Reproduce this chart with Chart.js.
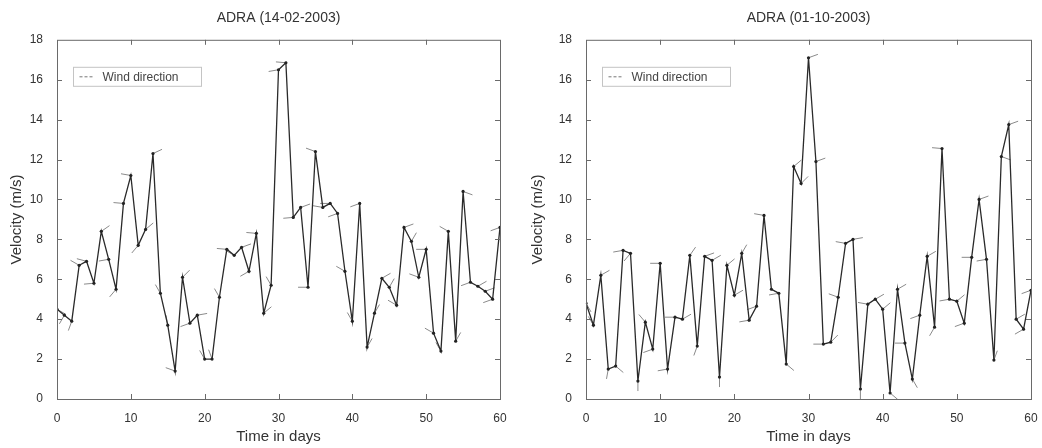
<!DOCTYPE html>
<html>
<head>
<meta charset="utf-8">
<script src="https://cdn.jsdelivr.net/npm/chart.js@4.4.1/dist/chart.umd.min.js"></script>
<style>
  body { margin: 0; background: #fff; }
  .wrap { position: absolute; top: 0; width: 521px; height: 448px; }
  #left { left: 0; }
  #right { left: 521px; }
</style>
</head>
<body>
<div class="wrap" id="left"><canvas id="chartA"></canvas></div>
<div class="wrap" id="right"><canvas id="chartB"></canvas></div>
<script>
// day index 0..60
const days = [];
for (let d = 0; d <= 60; d++) days.push(d);

const xTicks = [0, 10, 20, 30, 40, 50, 60];
const yTicks = [0, 2, 4, 6, 8, 10, 12, 14, 16, 18];

// ADRA (14-02-2003) wind velocity, m/s
const velocityA = [4.5, 4.2, 3.9, 6.7, 6.9, 5.8, 8.4, 7.0, 5.5, 9.8,
  11.2, 7.7, 8.5, 12.3, 5.3, 3.7, 1.4, 6.1, 3.8, 4.2,
  2.0, 2.0, 5.1, 7.5, 7.2, 7.6, 6.4, 8.3, 4.3, 5.7,
  16.5, 16.85, 9.1, 9.6, 5.6, 12.4, 9.6, 9.8, 9.3, 6.4,
  3.9, 9.8, 2.6, 4.3, 6.05, 5.6, 4.7, 8.6, 7.9, 6.1,
  7.5, 3.3, 2.4, 8.4, 2.9, 10.4, 5.85, 5.65, 5.4, 5.0, 8.6];

// ADRA (01-10-2003) wind velocity, m/s
const velocityB = [4.8, 3.7, 6.2, 1.5, 1.65, 7.45, 7.3, 0.9, 3.85, 2.5,
  6.8, 1.5, 4.1, 4.0, 7.2, 2.65, 7.15, 6.95, 1.1, 6.7,
  5.2, 7.3, 3.95, 4.65, 9.2, 5.5, 5.3, 1.75, 11.65, 10.8,
  17.1, 11.9, 2.75, 2.85, 5.1, 7.8, 8.0, 0.5, 4.75, 5.0,
  4.5, 0.3, 5.5, 2.8, 1.0, 4.2, 7.15, 3.6, 12.55, 5.0,
  4.9, 3.8, 7.1, 10.0, 7.0, 1.95, 12.15, 13.75, 4.0, 3.5, 5.45];

// wind direction marks, degrees (screen, counter-clockwise from east)
const directionA = [330, 240, 250, 150, 165, 185, 35, 190, 230, 175,
  170, 230, 40, 25, 120, 100, 160, 45, 200, 10,
  120, 110, 120, 175, 150, 20, 210, 175, 40, 120,
  190, 175, 185, 20, 180, 160, 170, 180, 200, 150,
  120, 200, 60, 60, 30, 60, 150, 20, 60, 160,
  180, 150, 120, 150, 60, 340, 200, 30, 20, 200, 200];

const directionB = [300, 120, 30, 260, 320, 190, 230, 270, 130, 200,
  180, 190, 180, 30, 55, 250, 20, 30, 270, 40,
  30, 60, 190, 200, 170, 330, 190, 320, 40, 45,
  20, 20, 180, 45, 160, 170, 10, 270, 170, 30,
  40, 320, 30, 180, 300, 200, 30, 240, 175, 190,
  40, 200, 180, 20, 190, 70, 340, 20, 30, 210, 200];

const FONT = "'Liberation Sans', Arial, Helvetica, sans-serif";

const framePlugin = {
  id: 'frame',
  beforeDatasetsDraw(chart, args, opts) {
    // wind direction strokes from each point
    const ctx = chart.ctx;
    const meta = chart.getDatasetMeta(0);
    ctx.save();
    ctx.strokeStyle = '#8a8a8a';
    ctx.lineWidth = 1;
    meta.data.forEach((pt, i) => {
      const a = opts.directions[i] * Math.PI / 180;
      ctx.beginPath();
      ctx.moveTo(pt.x, pt.y);
      ctx.lineTo(pt.x + 10 * Math.cos(a), pt.y - 10 * Math.sin(a));
      ctx.stroke();
    });
    ctx.restore();
  },
  afterDraw(chart) {
    const { ctx, chartArea: a, scales } = chart;
    ctx.save();
    ctx.strokeStyle = '#6a6a6a';
    ctx.lineWidth = 1;
    ctx.strokeRect(a.left + 0.5, a.top + 0.5, a.right - a.left, a.bottom - a.top);
    ctx.beginPath();
    xTicks.slice(1, -1).forEach(v => {
      const x = Math.round(scales.x.getPixelForValue(v)) + 0.5;
      ctx.moveTo(x, a.bottom); ctx.lineTo(x, a.bottom - 5);
      ctx.moveTo(x, a.top); ctx.lineTo(x, a.top + 5);
    });
    yTicks.slice(1, -1).forEach(v => {
      const y = Math.round(scales.y.getPixelForValue(v)) + 0.5;
      ctx.moveTo(a.left, y); ctx.lineTo(a.left + 5, y);
      ctx.moveTo(a.right, y); ctx.lineTo(a.right - 5, y);
    });
    ctx.stroke();

    // legend box
    const bx = a.left + 16.5, by = a.top + 27.5, bw = 128, bh = 19;
    ctx.strokeStyle = '#c4c4c4';
    ctx.strokeRect(bx, by, bw, bh);
    ctx.strokeStyle = '#777';
    ctx.setLineDash([3, 2]);
    ctx.beginPath();
    ctx.moveTo(bx + 6, by + bh / 2); ctx.lineTo(bx + 21, by + bh / 2);
    ctx.stroke();
    ctx.setLineDash([]);
    ctx.fillStyle = '#444';
    ctx.font = '12px ' + FONT;
    ctx.textBaseline = 'middle';
    ctx.fillText('Wind direction', bx + 29, by + bh / 2 + 0.5);
    ctx.restore();
  }
};

function makeChart(id, title, values, directions, yWidth, padRight) {
  const points = days.map((d, i) => ({ x: d, y: values[i] }));
  return new Chart(document.getElementById(id), {
    type: 'line',
    data: {
      datasets: [{
        label: 'Velocity',
        data: points,
        borderColor: '#2a2a2a',
        borderWidth: 1.3,
        pointRadius: 1.6,
        pointBackgroundColor: '#222',
        pointBorderWidth: 0,
        tension: 0
      }]
    },
    options: {
      responsive: true,
      maintainAspectRatio: false,
      animation: false,
      layout: { padding: { left: 0, right: padRight, top: 0, bottom: 0 } },
      plugins: {
        legend: { display: false },
        tooltip: { enabled: false },
        title: {
          display: true,
          text: title,
          fullSize: false,
          color: '#333',
          font: { family: FONT, size: 14, weight: 'normal' },
          padding: { top: 10, bottom: 13 }
        },
        frame: { directions: directions }
      },
      scales: {
        x: {
          type: 'linear',
          min: 0, max: 60,
          afterBuildTicks: s => { s.ticks = xTicks.map(v => ({ value: v })); },
          afterFit: s => { s.height = 49; },
          grid: { display: false },
          border: { display: false },
          ticks: { color: '#333', padding: 4, font: { family: FONT, size: 12 }, maxRotation: 0 },
          title: {
            display: true, text: 'Time in days', color: '#333',
            font: { family: FONT, size: 15 }, padding: { top: 0, bottom: 2 }
          }
        },
        y: {
          min: 0, max: 18,
          afterBuildTicks: s => { s.ticks = yTicks.map(v => ({ value: v })); },
          afterFit: s => { s.width = yWidth; },
          grid: { display: false },
          border: { display: false },
          ticks: { color: '#333', padding: 6, font: { family: FONT, size: 12 } },
          title: {
            display: true, text: 'Velocity (m/s)', color: '#333',
            font: { family: FONT, size: 15 }, padding: { top: 8, bottom: 0 }
          }
        }
      }
    },
    plugins: [framePlugin]
  });
}

makeChart('chartA', 'ADRA (14-02-2003)', velocityA, directionA, 57, 21);
makeChart('chartB', 'ADRA (01-10-2003)', velocityB, directionB, 65, 11);
</script>
</body>
</html>
